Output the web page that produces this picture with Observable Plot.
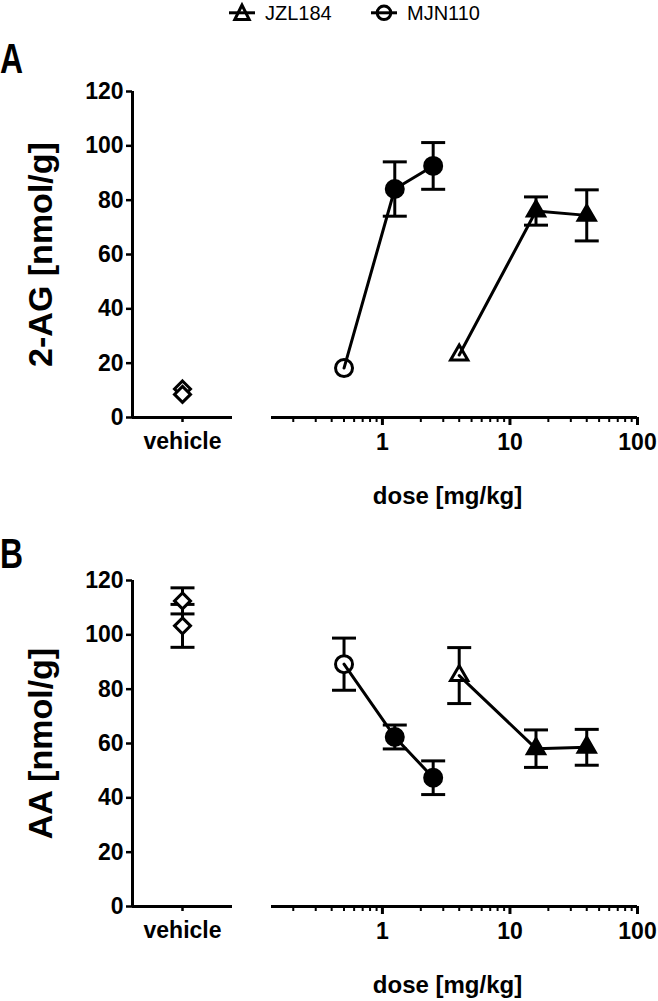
<!DOCTYPE html>
<html>
<head>
<meta charset="utf-8">
<script src="https://cdn.jsdelivr.net/npm/d3@7"></script>
<script src="https://cdn.jsdelivr.net/npm/@observablehq/plot@0.6"></script>
<style>
  html, body { margin: 0; padding: 0; background: #fff; }
  #root { position: relative; width: 658px; height: 1001px; overflow: hidden; font-family: "Liberation Sans", Arial, Helvetica, sans-serif; }
  #root svg { position: absolute; }
</style>
</head>
<body>
<div id="root">
  <svg id="overlay" width="658" height="1001" style="left:0;top:0" font-family="Liberation Sans, Arial, sans-serif">
    <g stroke="#000" stroke-width="3" fill="#fff">
      <polygon points="242,5 234.8,19.5 249.2,19.5"></polygon>
      <line x1="229" x2="255" y1="12.8" y2="12.8"></line>
      <circle cx="384" cy="12.8" r="6.8"></circle>
      <line x1="371" x2="397" y1="12.8" y2="12.8"></line>
    </g>
    <text x="265" y="20" font-size="20" fill="#000">JZL184</text>
    <text x="407" y="20" font-size="20" fill="#000">MJN110</text>
    <text transform="translate(0,73) scale(0.76,1)" font-size="42" font-weight="bold" fill="#000">A</text>
    <text transform="translate(0,568) scale(0.76,1)" font-size="42" font-weight="bold" fill="#000">B</text>
  </svg>
</div>
<script>
// ---------- data ----------
const mjnDoses = [0.5, 1.25, 2.5];        // MJN110 mg/kg
const jzlDoses = [4, 16, 40];             // JZL184 mg/kg
const significant = [false, true, true];  // open vs filled symbols

// Panel A: 2-AG [nmol/g]  (null = error bar smaller than the symbol, not drawn)
const veh2AG = [10.5, 8.5];
const veh2AGsem = [null, null];
const mjn2AG = [18.2, 84.1, 92.6];
const mjn2AGsem = [null, 10.0, 8.6];
const jzl2AG = [23.0, 76.0, 74.4];
const jzl2AGsem = [null, 5.2, 9.4];

// Panel B: AA [nmol/g]
const vehAA = [112.5, 103.3];
const vehAAsem = [4.8, 7.9];
const mjnAA = [89.2, 62.4, 47.4];
const mjnAAsem = [9.6, 4.4, 6.2];
const jzlAA = [85.0, 58.1, 58.6];
const jzlAAsem = [10.3, 6.9, 6.6];

const yTicks = [0, 20, 40, 60, 80, 100, 120];
const doseTicks = [1, 10, 100];
const minorTicks = [0.2, 0.3, 0.4, 0.5, 0.6, 0.7, 0.8, 0.9, 2, 3, 4, 5, 6, 7, 8, 9, 20, 30, 40, 50, 60, 70, 80, 90];
const vehicleLabel = "vehicle";
const doseLabel = "dose [mg/kg]";

// ---------- rendering ----------
const FONT = "Liberation Sans, Arial, Helvetica, sans-serif";
const root = document.getElementById("root");
const capSymbol = { draw(ctx) { ctx.moveTo(-12, 0); ctx.lineTo(12, 0); } };

function rows(doses, vals, sems, drug) {
  return doses.map((d, i) => ({ drug, dose: d, y: vals[i], e: sems[i], sig: significant[i] }));
}

function errorMarks(data, x) {
  const eb = data.filter(d => d.e != null);
  return [
    Plot.ruleX(eb, { x, y1: d => d.y - d.e, y2: d => d.y + d.e, stroke: "#000", strokeWidth: 3 }),
    Plot.dot(eb, { x, y: d => d.y + d.e, symbol: capSymbol, fill: "none", stroke: "#000", strokeWidth: 3 }),
    Plot.dot(eb, { x, y: d => d.y - d.e, symbol: capSymbol, fill: "none", stroke: "#000", strokeWidth: 3 })
  ];
}

function panel(top, yLabel, veh, vehSem, mjn, mjnSem, jzl, jzlSem) {
  const H = 520, mt = 91, mb = 103;
  const vehData = veh.map((v, i) => ({ x: 1, y: v, e: vehSem[i] }));
  const vehPlot = Plot.plot({
    width: 240, height: H,
    marginLeft: 132, marginRight: 8, marginTop: mt, marginBottom: mb,
    style: { fontFamily: FONT, background: "transparent", overflow: "visible" },
    x: { type: "linear", domain: [0, 2], axis: null },
    y: { domain: [0, 120], axis: null },
    marks: [
      Plot.ruleX([0], { stroke: "#000", strokeWidth: 3 }),
      Plot.ruleY([0], { stroke: "#000", strokeWidth: 3 }),
      Plot.axisY({ ticks: yTicks, tickSize: 6, tickPadding: 3, fontSize: 23, fontWeight: "bold", fill: "#000", stroke: "#000", strokeWidth: 2.5, label: null }),
      Plot.axisX({ ticks: [1], tickFormat: () => vehicleLabel, tickSize: 5, tickPadding: 10, fontSize: 23, fontWeight: "bold", fill: "#000", stroke: "#000", strokeWidth: 2.5, label: null }),
      ...errorMarks(vehData, "x"),
      Plot.dot(vehData, { x: "x", y: "y", symbol: "diamond2", r: 7.2, fill: "#fff", stroke: "#000", strokeWidth: 3 }),
      Plot.text([yLabel], { text: d => d, frameAnchor: "left", textAnchor: "middle", lineAnchor: "middle", rotate: -90, dx: -91, fontSize: 34, fontWeight: "bold", fill: "#000" })
    ]
  });
  vehPlot.style.left = "0px";
  vehPlot.style.top = top + "px";
  root.appendChild(vehPlot);

  const data = [...rows(mjnDoses, mjn, mjnSem, "MJN110"), ...rows(jzlDoses, jzl, jzlSem, "JZL184")];
  const doseMarker = (drug, symbol, r) => Plot.dot(data.filter(d => d.drug === drug), {
    x: "dose", y: "y", symbol, r, fill: d => d.sig ? "#000" : "#fff", stroke: "#000", strokeWidth: 3
  });
  const dosePlot = Plot.plot({
    width: 418, height: H,
    marginLeft: 31, marginRight: 21, marginTop: mt, marginBottom: mb,
    style: { fontFamily: FONT, background: "transparent", overflow: "visible" },
    x: { type: "log", domain: [0.135, 100], axis: null },
    y: { domain: [0, 120], axis: null },
    marks: [
      Plot.ruleY([0], { stroke: "#000", strokeWidth: 3 }),
      Plot.axisX({ ticks: minorTicks, tickFormat: () => "", tickSize: 5, stroke: "#000", strokeWidth: 2, label: null }),
      Plot.axisX({ ticks: doseTicks, tickFormat: d => String(d), tickSize: 8, tickPadding: 8, fontSize: 23, fontWeight: "bold", fill: "#000", stroke: "#000", strokeWidth: 3, label: null }),
      ...errorMarks(data, "dose"),
      doseMarker("MJN110", "circle", 8.5),
      doseMarker("JZL184", "triangle", 6.4),
      Plot.line(data, { x: "dose", y: "y", z: "drug", stroke: "#000", strokeWidth: 3 }),
      Plot.text([doseLabel], { text: d => d, frameAnchor: "bottom", dy: 86, dx: -7, fontSize: 24, fontWeight: "bold", fill: "#000" })
    ]
  });
  dosePlot.style.left = "240px";
  dosePlot.style.top = top + "px";
  root.appendChild(dosePlot);
}

panel(0, "2-AG [nmol/g]", veh2AG, veh2AGsem, mjn2AG, mjn2AGsem, jzl2AG, jzl2AGsem);
panel(489, "AA [nmol/g]", vehAA, vehAAsem, mjnAA, mjnAAsem, jzlAA, jzlAAsem);
</script>
</body>
</html>
